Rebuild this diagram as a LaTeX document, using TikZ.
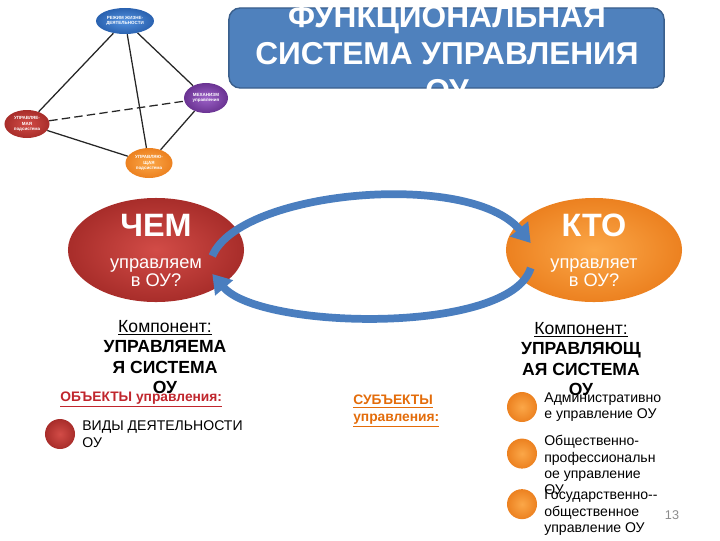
\documentclass[tikz,border=0pt]{standalone}
\usepackage{fontspec}
\setmainfont{Liberation Sans}
\usetikzlibrary{arrows.meta,positioning,shapes.geometric}
\definecolor{titlefill}{HTML}{4F81BD}
\definecolor{titleedge}{HTML}{3A5F8C}
\definecolor{ringblue}{HTML}{4A7EBF}
\definecolor{redin}{HTML}{D24C47}
\definecolor{redout}{HTML}{A82D2A}
\definecolor{orin}{HTML}{FBA748}
\definecolor{orout}{HTML}{EC8120}
\definecolor{bluein}{HTML}{5593E0}
\definecolor{blueout}{HTML}{2A62B0}
\definecolor{purpin}{HTML}{9D62C8}
\definecolor{purpout}{HTML}{6A3392}
\definecolor{objred}{HTML}{C0262D}
\definecolor{subjor}{HTML}{E36C0A}
\definecolor{pagenum}{HTML}{8C8C8C}

\begin{document}
\begin{tikzpicture}[
  x=0.025cm, y=-0.025cm,
  tiny/.style={ellipse, inner sep=0pt, text=white, align=center, font=\fontsize{3.2}{3.8}\selectfont\bfseries},
  tline/.style={draw=black!85, line width=0.9pt},
  oval/.style={ellipse, inner xsep=0pt, inner ysep=-3pt, minimum width=4.4cm, minimum height=2.6cm, text=white, align=center, font=\fontsize{13}{12.8}\selectfont},
  swirl/.style={draw=ringblue, line width=5.5pt, -{Triangle[length=13pt,width=16pt]}},
  comp/.style={align=center, inner sep=0pt, anchor=north, font=\fontsize{12.5}{14.5}\selectfont},
  dot/.style={circle, inner sep=0pt, minimum size=0.75cm},
  item/.style={align=left, inner sep=0pt, anchor=north west, font=\fontsize{10}{11.7}\selectfont},
]
\useasboundingbox (0,0) rectangle (720,540);
% title box, text runs past its edges
\node[draw=titleedge, fill=titlefill, rounded corners=8pt, line width=1pt, minimum width=10.875cm, minimum height=2cm] (titlebox) at (446.5,48) {};
\node[text=white, align=center, inner sep=0pt, font=\fontsize{22.5}{26.3}\selectfont\bfseries] (title) at (447,54) {ФУНКЦИОНАЛЬНАЯ\\СИСТЕМА УПРАВЛЕНИЯ\\ОУ};
% small tetrahedron in the corner
\node[tiny, minimum width=1.45cm, minimum height=0.65cm, inner color=bluein, outer color=blueout] (life) at (125,21) {РЕЖИМ ЖИЗНЕ-\\ДЕЯТЕЛЬНОСТИ};
\node[tiny, minimum width=1.1cm, minimum height=0.75cm, inner color=purpin, outer color=purpout] (mech) at (206,98) {МЕХАНИЗМ\\управления};
\node[tiny, minimum width=1.125cm, minimum height=0.7cm, inner color=redin, outer color=redout] (ruled) at (27,124) {УПРАВЛЯЕ-\\МАЯ\\подсистема};
\node[tiny, minimum width=1.175cm, minimum height=0.75cm, inner color=orin, outer color=orout] (ruling) at (149,163) {УПРАВЛЯЮ-\\ЩАЯ\\подсистема};
\draw[tline] (life) -- (ruled);
\draw[tline] (life) -- (ruling);
\draw[tline] (life) -- (mech);
\draw[tline, dash pattern=on 6pt off 3pt] (ruled) -- (mech);
\draw[tline] (ruled) -- (ruling);
\draw[tline] (mech) -- (ruling);
% the two questions
\node[oval, inner color=redin, outer color=redout] (what) at (156,250) {{\fontsize{23}{23}\selectfont\bfseries ЧЕМ}\\[10pt]управляем\\в ОУ?};
\node[oval, inner color=orin, outer color=orout] (who) at (594,250) {{\fontsize{23}{23}\selectfont\bfseries КТО}\\[10pt]управляет\\в ОУ?};
% ring of arrows between them
\draw[swirl] ([xshift=-0.8cm,yshift=-0.15cm]what.east) .. controls (240,190) and (470,170) .. ([xshift=0.625cm,yshift=0.175cm]who.west);
\draw[swirl] ([xshift=0.625cm,yshift=-0.45cm]who.west) .. controls (510,335) and (260,330) .. ([xshift=-0.8cm,yshift=-0.6cm]what.east);
% components
\node[comp] (ruledcomp) at (165,320) {\underline{Компонент:}\\\textbf{УПРАВЛЯЕМА}\\\textbf{Я СИСТЕМА}\\\textbf{ОУ}};
\node[comp] (rulingcomp) at (581,322) {\underline{Компонент:}\\\textbf{УПРАВЛЯЮЩ}\\\textbf{АЯ СИСТЕМА}\\\textbf{ОУ}};
% objects
\node[item, text=objred, font=\fontsize{9.8}{11}\selectfont\bfseries] (objects) at (60,392) {\underline{ОБЪЕКТЫ управления:}};
\node[dot, inner color=redin, outer color=redout] (objdot) at (60,434) {};
\node[item, right=1.7mm of objdot] (kinds) {ВИДЫ ДЕЯТЕЛЬНОСТИ\\ОУ};
% subjects
\node[item, text=subjor, font=\fontsize{9.8}{12}\selectfont\bfseries] (subjects) at (353,395) {\underline{СУБЪЕКТЫ}\\\underline{управления:}};
\node[dot, inner color=orin, outer color=orout] (subj1) at (522,407) {};
\node[dot, inner color=orin, outer color=orout, below=0.4cm of subj1] (subj2) {};
\node[dot, inner color=orin, outer color=orout, below=0.5cm of subj2] (subj3) {};
\node[item, right=1.7mm of subj1] (admin) {Административно\\е  управление ОУ};
\node[item] (prof) at (544,435) {Общественно-\\профессиональн\\ое управление\\ОУ};
\node[item] (state) at (544,490) {Государственно-{}-\\общественное\\управление ОУ};
\node[text=pagenum, font=\fontsize{9}{9}\selectfont] (pageno) at (672,515) {13};
\end{tikzpicture}
\end{document}
